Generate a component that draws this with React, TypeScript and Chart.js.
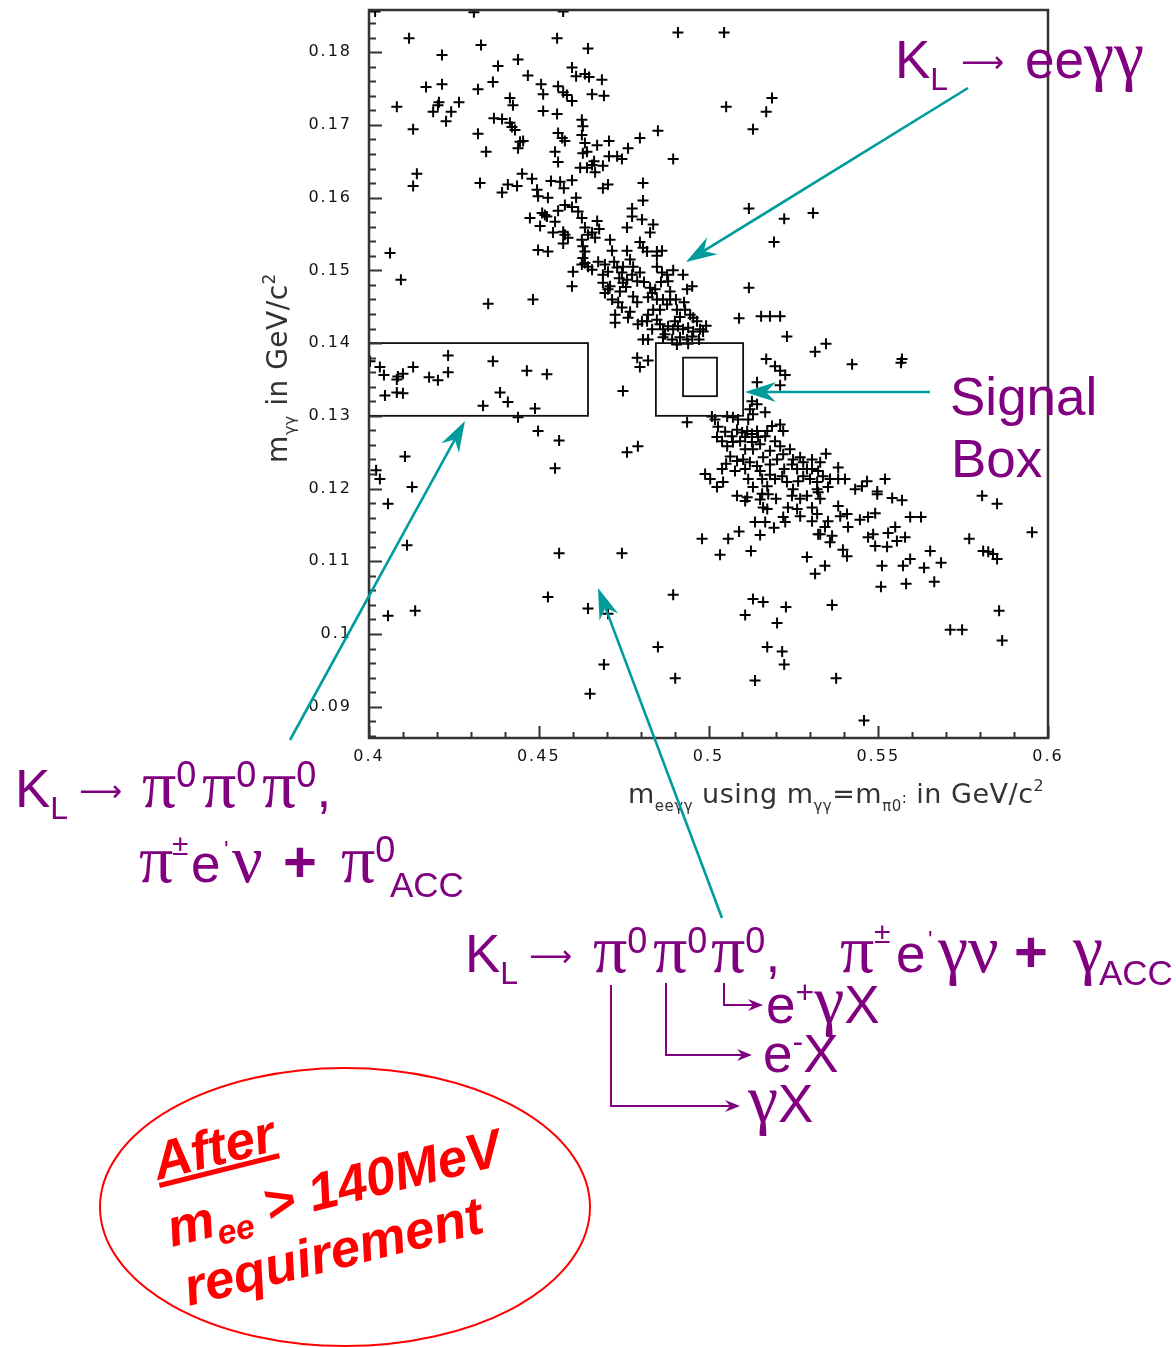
import React, { useEffect, useRef } from "react";
import { Chart, registerables } from "chart.js";

Chart.register(...registerables);

// Axis tick labels
const X_TICKS = [0.4, 0.45, 0.5, 0.55, 0.6];
const Y_TICKS = [0.09, 0.1, 0.11, 0.12, 0.13, 0.14, 0.15, 0.16, 0.17, 0.18];

// Axis ranges (GeV/c^2)
const X_RANGE = [0.4, 0.6];
const Y_RANGE = [0.0857, 0.1858];

// Event candidates: [m_eeγγ, m_γγ] in GeV/c^2
const upperBandWest = [
  [0.4018,0.1856],[0.4309,0.1855],[0.4572,0.1856],[0.4118,0.1819],[0.4330,0.1810],[0.4554,0.1819],[0.4645,0.1805],[0.4215,0.1796],[0.4439,0.1790],[0.4380,0.1781],
  [0.4598,0.1779],[0.4610,0.1767],[0.4636,0.1770],[0.4648,0.1766],[0.4468,0.1768],[0.4365,0.1759],[0.4168,0.1752],[0.4215,0.1756],[0.4321,0.1749],[0.4507,0.1756],
  [0.4513,0.1742],[0.4557,0.1753],[0.4572,0.1745],[0.4583,0.1741],[0.4598,0.1733],[0.4657,0.1742],[0.4082,0.1725],[0.4206,0.1731],[0.4203,0.1727],[0.4265,0.1731],
  [0.4189,0.1718],[0.4242,0.1718],[0.4227,0.1705],[0.4415,0.1737],[0.4424,0.1727],[0.4513,0.1719],[0.4554,0.1715],[0.4368,0.1709],[0.4392,0.1708],[0.4415,0.1703],
  [0.4421,0.1697],[0.4430,0.1693],[0.4627,0.1707],[0.4630,0.1698],[0.4130,0.1694],[0.4321,0.1688],[0.4557,0.1689],[0.4569,0.1682],[0.4577,0.1678],[0.4627,0.1686],
  [0.4445,0.1677],[0.4454,0.1678],[0.4439,0.1668],[0.4345,0.1663],[0.4548,0.1663],[0.4557,0.1649],[0.4636,0.1675],[0.4642,0.1663],[0.4630,0.1661],[0.4141,0.1633],
  [0.4130,0.1616],[0.4327,0.1620],[0.4451,0.1633],[0.4480,0.1626],[0.4409,0.1618],[0.4436,0.1616],[0.4392,0.1607],[0.4495,0.1611],[0.4498,0.1602],[0.4527,0.1600],
  [0.4536,0.1623],[0.4563,0.1622],[0.4574,0.1613],[0.4598,0.1624],[0.4610,0.1600],[0.4622,0.1641],[0.4642,0.1641],[0.4657,0.1645],[0.4474,0.1572],[0.4510,0.1579],
  [0.4518,0.1576],[0.4524,0.1574],[0.4557,0.1582],[0.4577,0.1590],[0.4598,0.1587],[0.4616,0.1581],[0.4627,0.1572],[0.4504,0.1561],[0.4548,0.1567],[0.4542,0.1552],
  [0.4572,0.1553],[0.4577,0.1549],[0.4586,0.1545],[0.4572,0.1537],[0.4636,0.1559],[0.4645,0.1549],[0.4627,0.1542],[0.4630,0.1533],[0.4636,0.1526],[0.4062,0.1524],
  [0.4498,0.1528],[0.4527,0.1526],
];

const upperBandEast = [
  [0.4910,0.1827],[0.5046,0.1827],[0.4686,0.1762],[0.4692,0.1740],[0.5187,0.1737],[0.5170,0.1718],[0.5131,0.1694],[0.5052,0.1725],[0.4851,0.1692],[0.4798,0.1682],
  [0.4763,0.1668],[0.4707,0.1678],[0.4672,0.1672],[0.4707,0.1657],[0.4731,0.1657],[0.4745,0.1653],[0.4663,0.1650],[0.4689,0.1644],[0.4666,0.1635],[0.4896,0.1653],
  [0.4704,0.1618],[0.4689,0.1613],[0.4807,0.1620],[0.4807,0.1596],[0.4775,0.1585],[0.4775,0.1574],[0.4804,0.1570],[0.4672,0.1568],[0.4678,0.1557],[0.4666,0.1545],
  [0.4657,0.1552],[0.4760,0.1559],[0.4837,0.1563],[0.4828,0.1552],[0.4710,0.1542],[0.4716,0.1527],[0.4798,0.1539],[0.4807,0.1531],[0.4819,0.1526],[0.4848,0.1526],
  [0.4863,0.1527],[0.4760,0.1527],[0.5119,0.1585],[0.5223,0.1571],[0.5308,0.1579],[0.5193,0.1539],
];

const sidebandRegion = [
  [0.4094,0.1487],[0.4351,0.1454],[0.4483,0.1460],[0.4601,0.1498],[0.4598,0.1478],[0.4630,0.1517],[0.4636,0.1510],[0.4645,0.1505],[0.4657,0.1501],[0.4627,0.1508],
  [0.4003,0.1375],[0.4032,0.1367],[0.4044,0.1356],[0.4082,0.1350],[0.4085,0.1354],[0.4100,0.1358],[0.4130,0.1367],[0.4177,0.1353],[0.4203,0.1349],[0.4233,0.1383],
  [0.4233,0.1360],[0.4047,0.1328],[0.4082,0.1332],[0.4100,0.1331],[0.4365,0.1375],[0.4465,0.1362],[0.4524,0.1357],[0.4386,0.1332],[0.4409,0.1319],[0.4336,0.1314],
  [0.4439,0.1298],[0.4489,0.1310],[0.4498,0.1279],[0.4560,0.1266],[0.4548,0.1228],[0.4106,0.1244],[0.4021,0.1225],[0.4032,0.1213],[0.4127,0.1202],[0.4056,0.1179],
  [0.4112,0.1122],[0.4560,0.1111],[0.4056,0.1025],[0.4136,0.1032],[0.4527,0.1051],[0.4645,0.1035],[0.4651,0.0918],
];

const bandCore = [
  [0.4848,0.1520],[0.4695,0.1508],[0.4704,0.1498],[0.4731,0.1504],[0.4745,0.1497],[0.4748,0.1505],[0.4769,0.1515],[0.4775,0.1494],[0.4798,0.1497],[0.4790,0.1485],
  [0.4689,0.1483],[0.4710,0.1478],[0.4695,0.1469],[0.4716,0.1460],[0.4739,0.1471],[0.4748,0.1483],[0.4760,0.1487],[0.4848,0.1505],[0.4863,0.1497],[0.4878,0.1494],
  [0.4896,0.1500],[0.4925,0.1494],[0.4881,0.1485],[0.4937,0.1474],[0.4952,0.1478],[0.4828,0.1476],[0.4834,0.1469],[0.4822,0.1463],[0.4778,0.1464],[0.4790,0.1456],
  [0.4769,0.1443],[0.4745,0.1449],[0.4725,0.1439],[0.4725,0.1428],[0.4848,0.1460],[0.4866,0.1460],[0.4887,0.1460],[0.4878,0.1453],[0.4857,0.1446],[0.4837,0.1446],
  [0.4822,0.1439],[0.4804,0.1430],[0.4792,0.1426],[0.4819,0.1430],[0.4907,0.1446],[0.4931,0.1446],[0.4916,0.1436],[0.4946,0.1439],[0.4955,0.1435],[0.4848,0.1432],
  [0.4857,0.1426],[0.4866,0.1419],[0.4881,0.1423],[0.4896,0.1419],[0.4910,0.1423],[0.4925,0.1419],[0.4940,0.1421],[0.4955,0.1416],[0.4975,0.1419],[0.4984,0.1416],
  [0.4866,0.1408],[0.4893,0.1405],[0.4916,0.1408],[0.4937,0.1405],[0.4952,0.1409],[0.4872,0.1412],[0.4907,0.1398],[0.4940,0.1399],[0.4807,0.1405],[0.4822,0.1405],
  [0.4790,0.1380],[0.4822,0.1376],[0.4798,0.1367],[0.4748,0.1334],[0.5119,0.1476],[0.5090,0.1434],[0.5155,0.1437],[0.5181,0.1437],[0.5211,0.1437],[0.5231,0.1409],
  [0.5314,0.1388],[0.5170,0.1378],[0.5196,0.1368],[0.5211,0.1362],[0.5226,0.1356],[0.5143,0.1346],[0.5211,0.1342],[0.4937,0.1291],[0.4760,0.1250],[0.4792,0.1258],
  [0.4675,0.1512],[0.4689,0.1494],[0.4722,0.1512],[0.4737,0.1489],[0.4757,0.1477],[0.4778,0.1505],[0.4810,0.1484],[0.4843,0.1474],[0.4860,0.1484],[0.4887,0.1471],
  [0.4904,0.1460],[0.4928,0.1456],[0.4966,0.1430],[0.4993,0.1424],[0.4972,0.1405],[0.4901,0.1430],[0.4834,0.1419],[0.4763,0.1435],[0.4734,0.1456],[0.4704,0.1474],
];

const lowerBandCentre = [
  [0.5128,0.1320],[0.5143,0.1316],[0.5122,0.1309],[0.5131,0.1302],[0.5167,0.1305],[0.5010,0.1299],[0.5019,0.1295],[0.5055,0.1299],[0.5072,0.1298],[0.5087,0.1295],
  [0.5117,0.1295],[0.5084,0.1281],[0.5099,0.1277],[0.5114,0.1279],[0.5128,0.1275],[0.5143,0.1279],[0.5173,0.1279],[0.5187,0.1286],[0.5211,0.1288],[0.5220,0.1279],
  [0.5025,0.1271],[0.5040,0.1265],[0.5055,0.1258],[0.5072,0.1264],[0.5093,0.1265],[0.5108,0.1254],[0.5131,0.1254],[0.5152,0.1261],[0.5167,0.1272],[0.5196,0.1265],
  [0.5211,0.1258],[0.5064,0.1244],[0.5084,0.1238],[0.5102,0.1240],[0.5122,0.1236],[0.5143,0.1231],[0.5161,0.1243],[0.5181,0.1233],[0.5202,0.1240],[0.5220,0.1247],
  [0.5240,0.1254],[0.5249,0.1240],[0.5279,0.1236],[0.5305,0.1240],[0.5329,0.1236],[0.5290,0.1227],[0.5261,0.1227],[0.4990,0.1220],[0.5005,0.1213],[0.5025,0.1202],
  [0.5043,0.1209],[0.5040,0.1227],[0.5108,0.1227],[0.5117,0.1213],[0.5131,0.1202],[0.5158,0.1213],[0.5173,0.1203],[0.5196,0.1213],[0.5217,0.1217],[0.5231,0.1209],
  [0.5249,0.1199],[0.5264,0.1210],[0.5279,0.1217],[0.5299,0.1213],[0.5320,0.1199],[0.5114,0.1188],[0.5084,0.1190],[0.5346,0.1399],[0.5423,0.1371],[0.5570,0.1378],
  [0.5567,0.1373],[0.5323,0.1224],[0.5337,0.1217],[0.5320,0.1209],[0.5358,0.1213],[0.5382,0.1213],[0.5382,0.1229],[0.5352,0.1202],[0.5323,0.1195],[0.5452,0.1203],
  [0.5467,0.1210],[0.5497,0.1196],[0.5520,0.1213],
  [0.5028,0.1285],[0.5049,0.1278],[0.5069,0.1272],[0.5108,0.1271],[0.5128,0.1264],[0.5146,0.1271],[0.5181,0.1252],[0.5052,0.1234],[0.5078,0.1224],[0.5152,0.1224],
  [0.5181,0.1219],[0.5223,0.1227],[0.5246,0.1233],[0.5270,0.1243],[0.5305,0.1227],[0.5158,0.1193],[0.5199,0.1186],[0.5270,0.1186],[0.5329,0.1186],[0.5346,0.1248],
  [0.5402,0.1213],[0.5432,0.1199],
];

const lowerTail = [
  [0.4745,0.1111],[0.4896,0.1054],[0.4704,0.1028],[0.4851,0.0982],[0.4692,0.0958],[0.4902,0.0939],[0.4981,0.1131],[0.5034,0.1109],[0.5058,0.1131],[0.5090,0.1141],
  [0.5125,0.1114],[0.5108,0.1183],[0.5152,0.1185],[0.5161,0.1174],[0.5173,0.1172],[0.5176,0.1192],[0.5137,0.1154],[0.5167,0.1154],[0.5152,0.1136],[0.5193,0.1146],
  [0.5220,0.1161],[0.5226,0.1154],[0.5234,0.1174],[0.5246,0.1190],[0.5261,0.1172],[0.5270,0.1162],[0.5290,0.1190],[0.5305,0.1174],[0.5305,0.1155],[0.5323,0.1137],
  [0.5290,0.1106],[0.5314,0.1083],[0.5131,0.1048],[0.5161,0.1044],[0.5228,0.1037],[0.5108,0.1026],[0.5202,0.1015],[0.5173,0.0982],[0.5217,0.0976],[0.5223,0.0958],
  [0.5137,0.0936],
];

const lowerBandEast = [
  [0.5497,0.1192],[0.5541,0.1187],[0.5570,0.1184],[0.5806,0.1190],[0.5850,0.1179],[0.5953,0.1140],[0.5768,0.1131],[0.5809,0.1114],[0.5824,0.1113],[0.5838,0.1110],
  [0.5850,0.1103],[0.5382,0.1176],[0.5388,0.1162],[0.5408,0.1165],[0.5320,0.1165],[0.5352,0.1155],[0.5343,0.1147],[0.5329,0.1137],[0.5364,0.1135],[0.5358,0.1126],
  [0.5411,0.1147],[0.5446,0.1157],[0.5470,0.1161],[0.5491,0.1166],[0.5594,0.1161],[0.5626,0.1161],[0.5396,0.1116],[0.5408,0.1107],[0.5470,0.1133],[0.5485,0.1137],
  [0.5491,0.1121],[0.5529,0.1139],[0.5550,0.1147],[0.5526,0.1120],[0.5555,0.1128],[0.5579,0.1133],[0.5653,0.1114],[0.5343,0.1094],[0.5511,0.1094],[0.5573,0.1094],
  [0.5594,0.1103],[0.5635,0.1091],[0.5685,0.1098],[0.5508,0.1065],[0.5582,0.1069],[0.5665,0.1072],[0.5364,0.1040],[0.5856,0.1032],[0.5865,0.0991],[0.5712,0.1006],
  [0.5747,0.1006],[0.5376,0.0939],[0.5458,0.0881],
];

// Selection regions: [xMin, xMax, yMin, yMax]
const sidebandBox = [0.4, 0.4645, 0.13, 0.14];
const signalBoxOuter = [0.4845, 0.5102, 0.13, 0.14];
const signalBoxInner = [0.4925, 0.5025, 0.1327, 0.138];

const EVENT_GROUPS = [upperBandWest, upperBandEast, sidebandRegion, bandCore, lowerBandCentre, lowerTail, lowerBandEast];

const PURPLE = "#800080";
const TEAL = "#009c9c";
const RED = "#ff0000";
const SANS = "Liberation Sans, Arial, sans-serif";
const SERIF = "Liberation Serif, Times New Roman, serif";
const ARROW_FONT = "DejaVu Sans";

const frameAndBoxes = {
  id: "frameAndBoxes",
  beforeDraw(chart: any) {
    chart.ctx.letterSpacing = "2px";
  },
  afterDraw(chart: any) {
    const { ctx, chartArea: a, scales } = chart;
    const xs = scales.x;
    const ys = scales.y;
    ctx.save();
    ctx.letterSpacing = "0px";

    // selection boxes
    ctx.strokeStyle = "#111";
    ctx.lineWidth = 1.8;
    for (const b of [sidebandBox, signalBoxOuter, signalBoxInner]) {
      const l = xs.getPixelForValue(b[0]);
      const r = xs.getPixelForValue(b[1]);
      const bt = ys.getPixelForValue(b[2]);
      const t = ys.getPixelForValue(b[3]);
      ctx.strokeRect(l, t, r - l, bt - t);
    }

    // inward tick marks
    ctx.strokeStyle = "#333";
    ctx.lineWidth = 2;
    ctx.beginPath();
    for (let i = Math.ceil(ys.min / 0.002); i * 0.002 <= ys.max; i++) {
      const py = Math.round(ys.getPixelForValue(i * 0.002)) + 0.5;
      const len = i % 5 === 0 ? 13 : 7;
      ctx.moveTo(a.left, py);
      ctx.lineTo(a.left + len, py);
    }
    for (let i = Math.round(xs.min / 0.01); i * 0.01 <= xs.max + 1e-9; i++) {
      const px = Math.round(xs.getPixelForValue(i * 0.01)) + 0.5;
      const len = i % 5 === 0 ? 12 : 6;
      ctx.moveTo(px, a.bottom);
      ctx.lineTo(px, a.bottom - len);
    }
    ctx.stroke();

    // plot frame
    ctx.strokeStyle = "#333";
    ctx.lineWidth = 2.5;
    ctx.strokeRect(a.left, a.top, a.right - a.left, a.bottom - a.top);
    ctx.restore();
  },
};

function arrowPath(x1: number, y1: number, x2: number, y2: number, len: number, half: number, notch: number) {
  const L = Math.hypot(x2 - x1, y2 - y1);
  const ux = (x2 - x1) / L;
  const uy = (y2 - y1) / L;
  const nx = -uy;
  const ny = ux;
  const bx = x2 - ux * len;
  const by = y2 - uy * len;
  const cx = x2 - ux * notch;
  const cy = y2 - uy * notch;
  return {
    shaft: `M${x1},${y1} L${cx},${cy}`,
    head: `M${x2},${y2} L${bx + nx * half},${by + ny * half} L${cx},${cy} L${bx - nx * half},${by - ny * half} Z`,
  };
}

function TealArrow({ x1, y1, x2, y2 }: { x1: number; y1: number; x2: number; y2: number }) {
  const p = arrowPath(x1, y1, x2, y2, 31, 10, 21);
  return (
    <g>
      <path d={p.shaft} stroke={TEAL} strokeWidth={2.6} fill="none" />
      <path d={p.head} fill={TEAL} />
    </g>
  );
}

function Bracket({ x, y0, y1, x2 }: { x: number; y0: number; y1: number; x2: number }) {
  const p = arrowPath(x, y1, x2, y1, 15, 6, 10);
  return (
    <g>
      <path d={`M${x},${y0} V${y1} H${x2 - 10}`} stroke={PURPLE} strokeWidth={2} fill="none" />
      <path d={p.head} fill={PURPLE} />
    </g>
  );
}

export default function App() {
  const canvasRef = useRef<HTMLCanvasElement>(null);

  useEffect(() => {
    const canvas = canvasRef.current;
    if (!canvas) return;
    const chart = new Chart(canvas, {
      type: "scatter",
      data: {
        datasets: EVENT_GROUPS.map((g) => ({
          data: g.map(([x, y]) => ({ x, y })),
          pointStyle: "cross",
          pointRadius: 5.5,
          pointBorderWidth: 2,
          borderColor: "#000",
          backgroundColor: "#000",
          showLine: false,
        })),
      },
      options: {
        responsive: false,
        animation: false,
        events: [],
        layout: { padding: { left: 0, right: 128, top: 10, bottom: 569 } },
        plugins: { legend: { display: false }, tooltip: { enabled: false } },
        scales: {
          x: {
            type: "linear",
            min: X_RANGE[0],
            max: X_RANGE[1],
            grid: { display: false, drawTicks: false },
            border: { display: false },
            afterBuildTicks: (s: any) => {
              s.ticks = X_TICKS.map((v) => ({ value: v }));
            },
            afterFit: (s: any) => {
              s.height = 40;
              s.paddingLeft = 0;
              s.paddingRight = 0;
            },
            ticks: {
              padding: 9,
              maxRotation: 0,
              autoSkip: false,
              color: "#111",
              font: { family: "DejaVu Sans", size: 16 },
              callback: (v: any) => String(v),
            },
          },
          y: {
            type: "linear",
            min: Y_RANGE[0],
            max: Y_RANGE[1],
            grid: { display: false, drawTicks: false },
            border: { display: false },
            afterBuildTicks: (s: any) => {
              s.ticks = Y_TICKS.map((v) => ({ value: v }));
            },
            afterFit: (s: any) => {
              s.width = 369;
              s.paddingTop = 0;
              s.paddingBottom = 0;
            },
            ticks: {
              padding: 17,
              autoSkip: false,
              color: "#111",
              font: { family: "DejaVu Sans", size: 16 },
              callback: (v: any) => String(v),
            },
          },
        },
      },
      plugins: [frameAndBoxes],
    } as any);
    return () => chart.destroy();
  }, []);

  const gk = { fontFamily: SERIF, fontSize: 68 };
  const arrow = { fontFamily: ARROW_FONT, fontSize: 30 };

  return (
    <div style={{ position: "absolute", left: 0, top: 0, width: 1176, height: 1347, background: "#fff", overflow: "hidden" }}>
      <canvas ref={canvasRef} width={1176} height={1347} style={{ position: "absolute", left: 0, top: 0 }} />
      <svg width={1176} height={1347} style={{ position: "absolute", left: 0, top: 0 }}>
        {/* axis titles */}
        <text x={628} y={803} fontFamily="DejaVu Sans" fontSize={27} letterSpacing={0.5} fill="#333">
          m<tspan fontSize={15} dy={8}>eeγγ</tspan>
          <tspan dy={-8}> using m</tspan>
          <tspan fontSize={15} dy={8}>γγ</tspan>
          <tspan dy={-8}>=m</tspan>
          <tspan fontSize={15} dy={8}>π0</tspan>
          <tspan fontSize={15} dy={-8}>:</tspan>
          <tspan> in GeV/c</tspan>
          <tspan fontSize={16} dy={-12}>2</tspan>
        </text>
        <text transform="translate(287,368) rotate(-90)" textAnchor="middle" fontFamily="DejaVu Sans" fontSize={28} letterSpacing={0.5} fill="#333">
          m<tspan fontSize={16} dy={8}>γγ</tspan>
          <tspan dy={-8}> in GeV/c</tspan>
          <tspan fontSize={17} dy={-12}>2</tspan>
        </text>

        {/* arrows */}
        <TealArrow x1={968} y1={88} x2={686} y2={262} />
        <TealArrow x1={930} y1={392} x2={745} y2={392} />
        <TealArrow x1={290} y1={740} x2={465} y2={421} />
        <TealArrow x1={722} y1={918} x2={598} y2={588} />

        {/* K_L -> ee gamma gamma */}
        <text x={895} y={78} fill={PURPLE} fontFamily={SANS} fontSize={53}>
          K<tspan fontSize={32} dy={12}>L</tspan>
          <tspan x={961} dy={-18} {...arrow}>⟶</tspan>
          <tspan x={1025} dy={6}>ee</tspan>
          <tspan {...gk}>γγ</tspan>
        </text>

        {/* Signal Box */}
        <text x={950} y={415} fill={PURPLE} fontFamily={SANS} fontSize={53}>Signal</text>
        <text x={951} y={477} fill={PURPLE} fontFamily={SANS} fontSize={53}>Box</text>

        {/* sideband background */}
        <text x={15} y={807} fill={PURPLE} fontFamily={SANS} fontSize={53}>
          K<tspan fontSize={32} dy={12}>L</tspan>
          <tspan x={79} dy={-18} {...arrow}>⟶</tspan>
          <tspan x={142} dy={6} {...gk}>π</tspan>
          <tspan fontSize={36} dy={-20}>0</tspan>
          <tspan x={202} dy={20} {...gk}>π</tspan>
          <tspan fontSize={36} dy={-20}>0</tspan>
          <tspan x={262} dy={20} {...gk}>π</tspan>
          <tspan fontSize={36} dy={-20}>0</tspan>
          <tspan dy={20}>,</tspan>
        </text>
        <text x={139} y={882} fill={PURPLE} fontFamily={SANS} fontSize={53}>
          <tspan {...gk}>π</tspan>
          <tspan x={172} fontSize={30} dy={-27}>±</tspan>
          <tspan x={191} dy={27}>e</tspan>
          <tspan x={224} fontSize={24} dy={-24}>'</tspan>
          <tspan x={232} dy={24} {...gk}>ν</tspan>
          <tspan x={283} fontWeight="bold" fontSize={58}>+</tspan>
          <tspan x={341} {...gk}>π</tspan>
          <tspan fontSize={36} dy={-20}>0</tspan>
          <tspan x={390} fontSize={35} dy={35}>ACC</tspan>
        </text>

        {/* signal region background */}
        <text x={465} y={972} fill={PURPLE} fontFamily={SANS} fontSize={53}>
          K<tspan fontSize={32} dy={12}>L</tspan>
          <tspan x={529} dy={-18} {...arrow}>⟶</tspan>
          <tspan x={593} dy={6} {...gk}>π</tspan>
          <tspan fontSize={36} dy={-19}>0</tspan>
          <tspan x={653} dy={19} {...gk}>π</tspan>
          <tspan fontSize={36} dy={-19}>0</tspan>
          <tspan x={711} dy={19} {...gk}>π</tspan>
          <tspan fontSize={36} dy={-19}>0</tspan>
          <tspan dy={19}>,</tspan>
          <tspan x={840} {...gk}>π</tspan>
          <tspan x={874} fontSize={30} dy={-29}>±</tspan>
          <tspan x={896} dy={29}>e</tspan>
          <tspan x={928} fontSize={24} dy={-24}>'</tspan>
          <tspan x={938} dy={24} {...gk}>γν</tspan>
          <tspan x={1014} fontWeight="bold" fontSize={58}>+</tspan>
          <tspan x={1073} {...gk}>γ</tspan>
          <tspan x={1099} fontSize={35} dy={13}>ACC</tspan>
        </text>

        <Bracket x={724} y0={983} y1={1005} x2={763} />
        <Bracket x={666} y0={983} y1={1055} x2={752} />
        <Bracket x={611} y0={985} y1={1106} x2={740} />

        <text x={766} y={1023} fill={PURPLE} fontFamily={SANS} fontSize={53}>
          e<tspan fontSize={32} dy={-20}>+</tspan>
          <tspan dy={20} {...gk}>γ</tspan>X
        </text>
        <text x={763} y={1072} fill={PURPLE} fontFamily={SANS} fontSize={53}>
          e<tspan fontSize={32} dy={-20}>-</tspan>
          <tspan dy={20}>X</tspan>
        </text>
        <text x={748} y={1122} fill={PURPLE} fontFamily={SANS} fontSize={53}>
          <tspan {...gk}>γ</tspan>X
        </text>

        {/* cut note */}
        <ellipse cx={345} cy={1207} rx={245} ry={139} fill="none" stroke={RED} strokeWidth={2} />
        <g fill={RED} fontFamily={SANS} fontSize={53} fontWeight="bold" fontStyle="italic">
          <text transform="translate(158,1180) rotate(-14)" textDecoration="underline">After</text>
          <text transform="translate(172,1247) rotate(-14)">
            m<tspan fontSize={34} dy={10}>ee</tspan>
            <tspan dy={-10}> &gt; 140MeV</tspan>
          </text>
          <text transform="translate(189,1306) rotate(-14)">requirement</text>
        </g>
      </svg>
    </div>
  );
}
